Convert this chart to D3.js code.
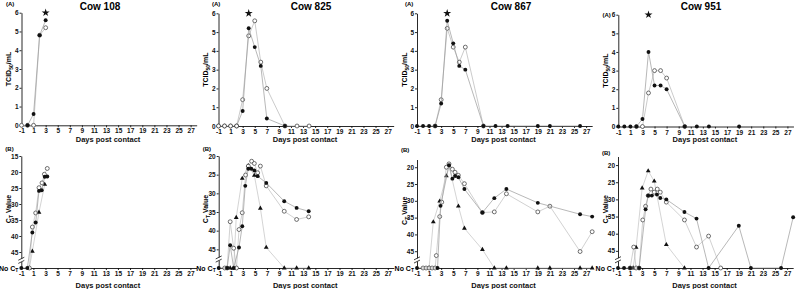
<!DOCTYPE html>
<html lang="en">
<head>
<meta charset="UTF-8">
<script src="https://d3js.org/d3.v7.min.js"></script>
<title>Cow panels</title>
<style>
  body { margin: 0; background: #fff; }
  svg text { font-family: "Liberation Sans", Arial, sans-serif; }
</style>
</head>
<body>
<svg id="mainsvg" width="796" height="289"></svg>
<script>
// ---- data ----
const cowNames = ['Cow 108', 'Cow 825', 'Cow 867', 'Cow 951']
const xTicks = [-1, 1, 3, 5, 7, 9, 11, 13, 15, 17, 19, 21, 23, 25, 27]
const tcidTicks = [0, 1, 2, 3, 4, 5, 6]
const NO_CT = 50

// (A) virus titre, log10 TCID50/mL  [day, value]
const virus108Filled = [[0, 0], [1, 0.6], [2, 4.8], [3, 5.6]]
const virus108Open = [[-1, 0], [0, 0], [1, 0], [2, 4.8], [3, 5.2]]
const virus825Filled = [[2, 0], [3, 0.8], [4, 5.2], [5, 4.2], [6, 3.2], [7, 0.4], [10, 0]]
const virus825Open = [[-1, 0], [0, 0], [1, 0], [2, 0], [3, 1.4], [4, 4.8], [5, 5.6], [6, 3.4], [7, 2.0], [10, 0], [12, 0], [14, 0]]
const virus867Filled = [[-1, 0], [0, 0], [1, 0], [2, 0], [3, 1.2], [4, 5.6], [5, 4.4], [6, 3.2], [7, 3.0], [10, 0], [12, 0], [14, 0], [19, 0], [21, 0], [26, 0]]
const virus867Open = [[2, 0], [3, 1.4], [4, 5.2], [5, 4.2], [6, 3.4], [7, 4.2], [10, 0]]
const virus951Filled = [[-1, 0], [0, 0], [1, 0], [2, 0], [3, 0.4], [4, 4.0], [5, 2.2], [6, 2.2], [7, 2.0], [10, 0], [12, 0], [14, 0], [19, 0]]
const virus951Open = [[2, 0], [3, 0], [4, 1.8], [5, 3.0], [6, 3.0], [7, 2.6], [10, 0]]
const peakDays = [3, 4, 4, 4]
const peakValue = 6

// (B) Ct values, 50 = no Ct  [day, Ct]
const ct108Filled = [[-1, 50], [0, 50], [0.83, 38.9], [1.38, 35.8], [1.93, 25.9], [2.38, 25.7], [2.88, 21.5], [3.3, 21.4]]
const ct108Open = [[0.33, 50], [0.83, 37.2], [1.38, 32.8], [1.93, 24.9], [2.43, 23.4], [2.82, 20.7], [3.3, 18.9]]
const ct108Tri = [[0.33, 50], [0.83, 44.8], [1.93, 32.6], [2.88, 23.9]]

const ct825Filled = [[-1, 50], [0.4, 50], [0.9, 43.9], [1.48, 50], [2.36, 44.5], [2.9, 38.8], [3.4, 28], [3.9, 23.4], [4.4, 23.4], [4.9, 23.9], [5.45, 25.4], [6.87, 27.2], [9.85, 32.1], [11.9, 33.9], [13.9, 34.8]]
const ct825Open = [[0, 50], [0.4, 50], [0.9, 37.6], [1.48, 44.7], [1.95, 50], [2.36, 39.7], [2.9, 35.2], [3.46, 25.1], [3.9, 22.7], [4.45, 21.4], [4.9, 22], [5.45, 24.5], [5.9, 22.7], [6.87, 28], [9.85, 34.8], [11.9, 37], [13.9, 36.3]]
const ct825Tri = [[0.9, 50], [1.48, 50], [1.9, 36.5], [2.9, 26], [3.9, 22.6], [4.9, 25.2], [5.9, 34], [6.87, 44.5], [9.85, 50], [11.9, 50], [13.9, 50]]

const ct867Filled = [[-1, 50], [2.4, 50], [2.9, 31.5], [4.3, 19.4], [4.86, 23.4], [5.3, 22.6], [5.85, 23], [6.85, 26.5], [9.83, 33.5], [11.8, 29.2], [13.8, 26.5], [19, 30.6], [26, 34], [28, 34.7]]
const ct867Open = [[0, 50], [0.5, 50], [1, 50], [1.5, 50], [2, 50], [2.2, 46.3], [2.76, 34.7], [3.1, 30.4], [3.86, 20], [4.3, 19], [4.86, 20.6], [5.3, 21.5], [5.85, 22.4], [6.85, 24.9], [9.83, 33.5], [11.8, 33.3], [13.8, 27.9], [19, 33.3], [21, 31.6], [26, 45.1], [28, 39.2]]
const ct867Tri = [[1, 50], [1.7, 36.3], [2.76, 30.1], [3.86, 22.6], [4.3, 19.6], [5.85, 31.6], [6.85, 38.2], [9.83, 44.5], [11.8, 50], [13.8, 50], [19, 50], [21, 50], [26, 50], [28, 50]]

const ct951Filled = [[-1, 50], [0, 50], [1, 50], [2.5, 50], [3.57, 32.9], [4.0, 28.9], [4.6, 28.9], [5.45, 28.6], [6, 29.6], [7, 30], [10, 33.7], [12, 35.6], [14, 50], [19, 37.7], [21, 50], [26, 50], [28, 35.2]]
const ct951Open = [[1, 50], [1.6, 43.9], [2.0, 50], [2.5, 50], [3.1, 36], [3.57, 32], [4, 28.9], [4.45, 27], [5, 27.9], [5.5, 27], [6, 27.9], [7, 30.8], [10, 36], [12, 43.9], [14, 40.7], [16, 50]]
const ct951Tri = [[1.5, 50], [2.0, 44], [3, 26.7], [4, 21.7], [5, 24.7], [7, 43.2], [10, 50]]

// ---- layout (pixel geometry per panel) ----
const svg = d3.select('#mainsvg')
const dayW = 6.04
const topPanels = [
  { x0: 21.5, y0: 125.3, y6: 12.7, titleX: 100, labX: 6, labY: 6 },
  { x0: 218.5, y0: 126, y6: 13.3, titleX: 311, labX: 212, labY: 6 },
  { x0: 417, y0: 126, y6: 13.3, titleX: 511, labX: 405, labY: 6 },
  { x0: 618.3, y0: 126.5, y6: 14.7, titleX: 701, labX: 602.5, labY: 17 }
]
const botPanels = [
  { x0: 21.3, top: 15, topPx: 156, labY: 151 },
  { x0: 218.7, top: 20, topPx: 156, labY: 151 },
  { x0: 417, top: 17.7, topPx: 159.5, labY: 152 },
  { x0: 618, top: 17.5, topPx: 156.5, labY: 155 }
]
const virusData = [
  [virus108Filled, virus108Open], [virus825Filled, virus825Open],
  [virus867Filled, virus867Open], [virus951Filled, virus951Open]
]
const ctData = [
  [ct108Filled, ct108Open, ct108Tri], [ct825Filled, ct825Open, ct825Tri],
  [ct867Filled, ct867Open, ct867Tri], [ct951Filled, ct951Open, ct951Tri]
]

const styleAxis = function (g) {
  g.selectAll('path, line').attr('stroke', '#111').attr('stroke-width', 0.9)
  g.selectAll('text').attr('font-size', 6.5).attr('font-weight', 'bold').attr('fill', '#111')
}

const drawMarks = function (g, pts, kind, x, y, lineColor) {
  g.append('path')
    .datum(pts)
    .attr('fill', 'none')
    .attr('stroke', lineColor)
    .attr('stroke-width', 0.7)
    .attr('d', d3.line().x(d => x(d[0])).y(d => y(d[1])))
  const sel = g.append('g').selectAll('path').data(pts).enter().append('path')
    .attr('transform', d => `translate(${x(d[0])},${y(d[1])})`)
  if (kind === 'filled') {
    sel.attr('d', d3.symbol().type(d3.symbolCircle).size(12)).attr('fill', '#111')
  } else if (kind === 'open') {
    sel.attr('d', d3.symbol().type(d3.symbolCircle).size(12))
      .attr('fill', '#fff').attr('stroke', '#333').attr('stroke-width', 0.7)
  } else {
    sel.attr('d', d3.symbol().type(d3.symbolTriangle).size(10)).attr('fill', '#111')
  }
}

const xLabel = function (cx, cy) {
  svg.append('text').attr('x', cx).attr('y', cy).attr('text-anchor', 'middle')
    .attr('font-size', 7.5).attr('font-weight', 'bold').attr('fill', '#111')
    .text('Days post contact')
}

// ---- top row: (A) virus isolation ----
topPanels.forEach((p, i) => {
  const x = d3.scaleLinear().domain([-1, 28]).range([p.x0, p.x0 + 29 * dayW])
  const y = d3.scaleLinear().domain([0, 6]).range([p.y0, p.y6])
  const g = svg.append('g')

  g.append('g').attr('transform', `translate(0,${p.y0})`)
    .call(d3.axisBottom(x).tickValues(xTicks).tickSize(2).tickPadding(1.5).tickSizeOuter(0).tickFormat(d => String(d)))
    .call(styleAxis)
  g.append('g').attr('transform', `translate(${p.x0},0)`)
    .call(d3.axisLeft(y).tickValues(tcidTicks).tickSize(2).tickPadding(1).tickSizeOuter(0).tickFormat(d => String(d)))
    .call(styleAxis)

  drawMarks(g, virusData[i][1], 'open', x, y, '#b5b5b5')
  drawMarks(g, virusData[i][0], 'filled', x, y, '#9a9a9a')
  if (i === 1) drawMarks(g, virusData[i][1].slice(0, 4), 'open', x, y, 'none')

  g.append('path')
    .attr('transform', `translate(${x(peakDays[i])},${y(peakValue)})`)
    .attr('d', d3.symbol().type(d3.symbolStar).size(20))
    .attr('fill', '#111')

  svg.append('text').attr('x', p.titleX).attr('y', 10).attr('text-anchor', 'middle')
    .attr('font-size', 10).attr('font-weight', 'bold').text(cowNames[i])
  svg.append('text').attr('x', p.labX).attr('y', p.labY).attr('font-size', 6)
    .attr('font-weight', 'bold').text('(A)')

  const yl = svg.append('text')
    .attr('transform', `translate(${p.x0 - 10.5},${(p.y0 + p.y6) / 2}) rotate(-90)`)
    .attr('text-anchor', 'middle').attr('font-size', 7).attr('font-weight', 'bold')
  yl.append('tspan').text('TCID')
  yl.append('tspan').attr('font-size', 5).attr('dy', 2).text('50')
  yl.append('tspan').attr('dy', -2).text('/mL')

  xLabel(p.x0 + 14 * dayW + 2, 142)
})

// ---- bottom row: (B) Ct values ----
botPanels.forEach((p, i) => {
  const x = d3.scaleLinear().domain([-1, 28]).range([p.x0, p.x0 + 29 * dayW])
  const y = d3.scaleLinear().domain([p.top, NO_CT]).range([p.topPx, 268])
  const g = svg.append('g')
  const ctTicks = d3.range(Math.ceil(p.top / 5) * 5, 46, 5)

  g.append('g').attr('transform', `translate(0,${y(NO_CT)})`)
    .call(d3.axisBottom(x).tickValues(xTicks).tickSize(2).tickPadding(1.5).tickSizeOuter(0).tickFormat(d => String(d)))
    .call(styleAxis)
  g.append('g').attr('transform', `translate(${p.x0},0)`)
    .call(d3.axisLeft(y).tickValues(ctTicks).tickSize(2).tickPadding(1).tickSizeOuter(0).tickFormat(d => String(d)))
    .call(styleAxis)

  // axis break
  const yb = y(47.6)
  g.append('rect').attr('x', p.x0 - 3).attr('y', yb - 1.6).attr('width', 6).attr('height', 3.2).attr('fill', '#fff')
  ;[-1.6, 1.6].forEach(o => {
    g.append('line').attr('x1', p.x0 - 3).attr('x2', p.x0 + 3)
      .attr('y1', yb + o + 1.5).attr('y2', yb + o - 1.5)
      .attr('stroke', '#111').attr('stroke-width', 0.8)
  })

  const noct = svg.append('text').attr('x', p.x0 - 3).attr('y', y(NO_CT) + 2.5)
    .attr('text-anchor', 'end').attr('font-size', 7).attr('font-weight', 'bold')
  noct.append('tspan').text('No C')
  noct.append('tspan').attr('font-size', 5).attr('dy', 1.5).text('T')

  drawMarks(g, ctData[i][2], 'tri', x, y, '#c2c2c2')
  drawMarks(g, ctData[i][1], 'open', x, y, '#bdbdbd')
  drawMarks(g, ctData[i][0], 'filled', x, y, '#9a9a9a')

  svg.append('text').attr('x', p.x0 - 16).attr('y', p.labY).attr('font-size', 6)
    .attr('font-weight', 'bold').text('(B)')

  const yl = svg.append('text')
    .attr('transform', `translate(${p.x0 - 10.5},${(p.topPx + 268) / 2 - 3}) rotate(-90)`)
    .attr('text-anchor', 'middle').attr('font-size', 7).attr('font-weight', 'bold')
  yl.append('tspan').text('C')
  yl.append('tspan').attr('font-size', 5).attr('dy', 2).text('T')
  yl.append('tspan').attr('dy', -2).text(' Value')

  xLabel(p.x0 + 14 * dayW + 2, 288)
})
</script>
</body>
</html>
